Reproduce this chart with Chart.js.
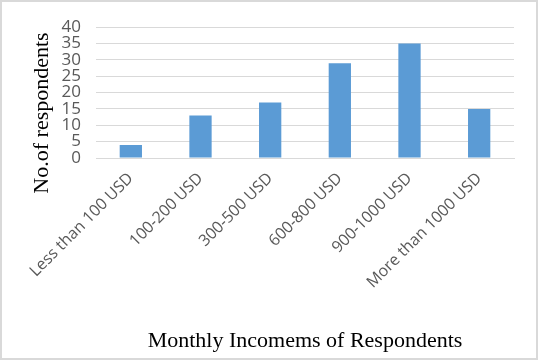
<!DOCTYPE html>
<html>
<head>
<meta charset="utf-8">
<script src="https://cdn.jsdelivr.net/npm/chart.js@4.4.1/dist/chart.umd.min.js"></script>
<style>
    html, body { margin: 0; padding: 0; background: #ffffff; }
    #wrap {
        width: 538px;
        height: 360px;
        box-sizing: border-box;
        border: 2px solid #d9d9d9;
        position: relative;
    }
</style>
</head>
<body>
<div id="wrap"><canvas id="incomeChart" width="534" height="356"></canvas></div>
<script>
// DATA
const categories = [
    'Less than 100 USD',
    '100-200 USD',
    '300-500 USD',
    '600-800 USD',
    '900-1000 USD',
    'More than 1000 USD'
];
const respondents = [4, 13, 17, 29, 35, 15];
const yTicks = [0, 5, 10, 15, 20, 25, 30, 35, 40];

const yTitle = 'No.of respondents';
const xTitle = 'Monthly Incomems of Respondents';

// y title drawn a bit lower than the scale would put it
const yTitlePlugin = {
    id: 'yTitlePlugin',
    afterDraw(chart) {
        const c = chart.ctx;
        c.save();
        c.translate(40, 111);
        c.rotate(-Math.PI / 2);
        c.font = '22px "Liberation Serif"';
        c.fillStyle = '#000000';
        c.textAlign = 'center';
        c.textBaseline = 'middle';
        c.fillText(yTitle, 0, 0);
        c.restore();
    }
};

const ctx = document.getElementById('incomeChart');

new Chart(ctx, {
    type: 'bar',
    data: {
        labels: categories,
        datasets: [
            {
                label: 'Respondents',
                data: respondents,
                backgroundColor: '#5b9bd5',
                borderWidth: 0,
                categoryPercentage: 1,
                barPercentage: 0.32
            }
        ]
    },
    options: {
        responsive: false,
        animation: false,
        layout: {
            padding: { top: 21, right: 22, left: 0, bottom: 0 }
        },
        plugins: {
            legend: { display: false },
            tooltip: { enabled: false }
        },
        scales: {
            y: {
                min: 0,
                max: 40,
                afterFit(scale) { scale.width = 94; },
                afterBuildTicks(scale) {
                    scale.ticks = yTicks.map(v => ({ value: v }));
                },
                border: { display: false },
                grid: {
                    color: '#d9d9d9',
                    drawTicks: false
                },
                ticks: {
                    color: '#595959',
                    stepSize: 5,
                    autoSkip: false,
                    padding: 15,
                    font: { family: 'Open Sans', size: 17 }
                }
            },
            x: {
                afterFit(scale) { scale.height = 200; },
                border: { display: true, color: '#d9d9d9' },
                grid: { display: false },
                ticks: {
                    color: '#595959',
                    minRotation: 45,
                    maxRotation: 45,
                    autoSkip: false,
                    padding: 3,
                    font: { family: 'Open Sans', size: 16 }
                },
                title: {
                    display: true,
                    text: xTitle,
                    color: '#000000',
                    padding: { top: 0, bottom: 4 },
                    font: { family: 'Liberation Serif', size: 22 }
                }
            }
        }
    },
    plugins: [yTitlePlugin]
});
</script>
</body>
</html>
